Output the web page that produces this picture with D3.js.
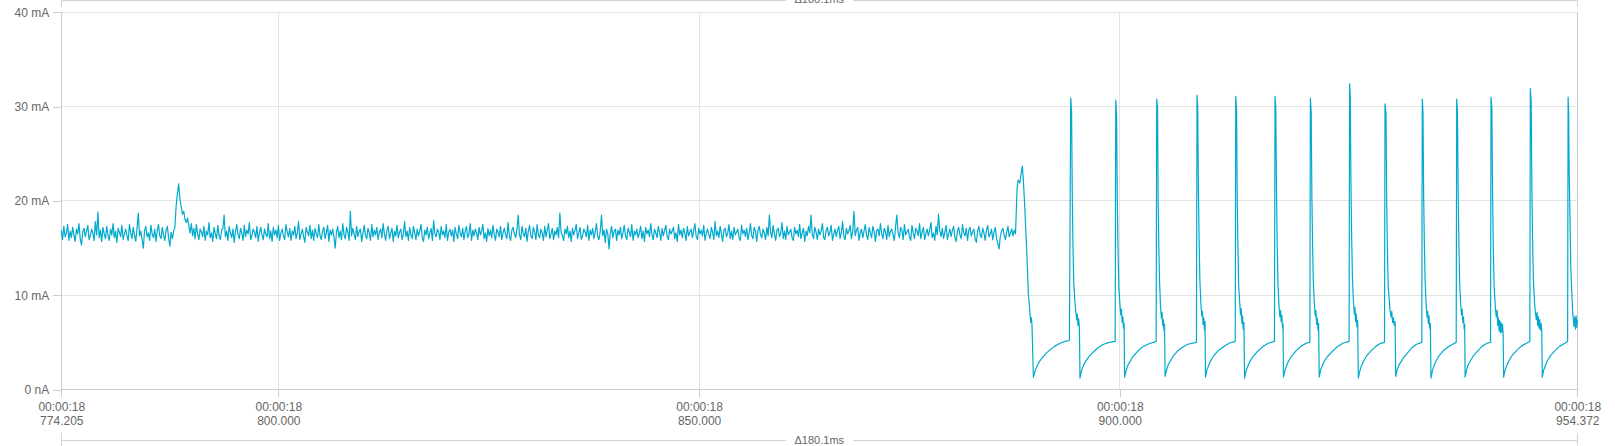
<!DOCTYPE html>
<html>
<head>
<meta charset="utf-8">
<script src="https://cdn.jsdelivr.net/npm/d3@7"></script>
<style>
  body { margin: 0; background: #fff; }
  svg { display: block; font-family: "Liberation Sans", Arial, sans-serif; }
</style>
</head>
<body>
<svg id="chart" width="1615" height="446"></svg>
<script>
"use strict";

/*
 * Current trace (mA) over an 180 ms window.
 */

const yTicks = [0, 10, 20, 30, 40];
const xTicks = [774.205, 800, 850, 900, 954.372];
const clockLabel = "00:00:18";
const deltaLabel = "\u0394180.1ms";

// idle section, one sample every 0.15 ms from 774.205 ms
const idleStart = 774.205;
const idleStep = 0.15;
const idle = [
  16.9, 15.9, 17.3, 16.2, 16.6, 17.5, 15.8, 16.8, 16.1, 17.2, 16.4, 15.7, 17.0, 16.5, 17.6, 16.0, 15.3, 16.7, 17.1, 16.2,
  16.8, 17.4, 15.9, 16.3, 17.0, 16.6, 15.8, 17.8, 16.4, 18.8, 16.1, 16.9, 15.7, 17.2, 16.5, 16.0, 17.3, 16.3, 15.8, 17.0,
  16.4, 17.6, 16.1, 16.8, 15.6, 17.1, 16.7, 16.2, 17.4, 15.9, 16.5, 17.0, 16.3, 15.8, 17.5, 16.6, 16.0, 17.2, 16.4, 15.7,
  17.1, 18.7, 16.3, 16.8, 15.9, 15.0, 16.9, 17.3, 16.2, 16.6, 15.8, 17.4, 16.5, 16.1, 17.0, 15.7, 16.8, 17.5, 16.3, 16.0,
  17.2, 16.4, 15.8, 16.9, 17.3, 16.1, 15.2, 16.7, 16.0, 16.8, 17.2, 19.5, 20.8, 21.8, 20.2, 19.4, 18.6, 18.9, 18.0, 17.7,
  18.2, 17.4, 16.6, 17.6, 16.3, 17.1, 16.0, 17.5, 16.5, 15.9, 17.0, 16.7, 16.2, 17.3, 15.8, 16.8, 16.4, 17.7, 16.1, 16.6,
  15.7, 17.2, 16.5, 16.0, 17.4, 16.3, 15.9, 16.9, 17.1, 18.5, 16.2, 16.8, 15.8, 17.3, 16.6, 16.1, 17.0, 15.6, 16.7, 17.5,
  16.4, 16.0, 17.1, 16.6, 15.8, 17.4, 16.2, 16.9, 16.5, 17.7, 15.9, 16.3, 17.0, 16.7, 16.1, 17.3, 15.7, 16.6, 17.2, 16.4,
  15.9, 17.0, 16.5, 16.2, 17.6, 16.0, 16.8, 15.7, 17.2, 16.4, 16.9, 16.1, 17.4, 15.8, 16.6, 17.0, 16.3, 15.9, 17.5, 16.7,
  16.2, 17.1, 15.8, 16.8, 16.4, 17.3, 16.0, 16.6, 17.8, 15.9, 16.5, 17.0, 16.2, 15.6, 17.2, 16.7, 16.3, 17.4, 16.0, 16.9,
  15.8, 17.1, 16.5, 16.1, 17.5, 16.3, 15.9, 16.8, 17.2, 16.0, 16.6, 17.4, 15.7, 16.9, 16.4, 17.0, 16.2, 15.0, 16.7, 17.3,
  16.1, 16.8, 15.9, 17.6, 16.4, 16.0, 17.2, 16.7, 15.8, 18.9, 16.3, 17.1, 16.5, 15.9, 17.3, 16.2, 16.8, 17.0, 15.7, 16.6,
  17.4, 16.3, 16.0, 17.1, 16.6, 15.8, 17.5, 16.2, 16.9, 16.4, 17.2, 15.9, 16.7, 17.0, 16.1, 17.6, 16.5, 15.8, 16.9, 17.3,
  16.0, 16.6, 17.1, 15.7, 16.8, 16.3, 17.4, 16.1, 16.7, 17.0, 15.9, 16.5, 17.8, 16.2, 16.8, 15.8, 17.2, 16.4, 16.0, 17.3,
  16.6, 15.9, 17.0, 16.3, 16.8, 17.5, 16.1, 15.7, 16.9, 16.4, 17.2, 16.0, 16.6, 17.1, 15.8, 17.9, 16.5, 16.2, 17.0, 16.7,
  15.9, 17.3, 16.4, 16.8, 16.1, 17.5, 15.8, 16.7, 17.0, 16.3, 16.9, 15.7, 17.2, 16.5, 16.0, 17.4, 16.6, 16.2, 17.1, 15.9,
  16.8, 17.3, 16.1, 16.5, 17.6, 15.8, 16.9, 16.3, 17.0, 16.6, 15.9, 17.2, 16.4, 16.8, 17.5, 16.0, 16.6, 15.7, 17.1, 16.3,
  16.9, 16.1, 17.4, 16.5, 15.8, 17.0, 16.7, 16.2, 17.3, 15.9, 16.6, 17.1, 16.4, 16.0, 17.7, 16.3, 15.8, 16.9, 17.2, 16.5,
  16.1, 17.0, 18.5, 16.4, 15.9, 17.3, 16.6, 16.2, 17.1, 15.7, 16.8, 17.4, 16.3, 16.0, 17.2, 16.7, 15.9, 17.5, 16.4, 16.1,
  17.0, 16.6, 15.8, 17.3, 16.2, 16.9, 17.6, 16.0, 16.5, 17.1, 15.9, 16.8, 16.4, 17.2, 16.1, 18.7, 16.7, 16.3, 15.8, 17.0,
  16.5, 17.3, 16.1, 16.8, 15.7, 17.1, 16.4, 16.9, 17.5, 16.0, 16.6, 17.2, 15.9, 16.3, 17.0, 16.7, 16.2, 17.4, 15.8, 16.9,
  16.4, 17.1, 16.0, 16.7, 17.6, 16.2, 15.9, 16.8, 18.5, 16.3, 16.9, 15.6, 17.0, 16.5, 14.9, 16.6, 17.3, 16.1, 16.8, 17.0,
  15.8, 16.9, 16.4, 17.2, 16.0, 16.6, 17.4, 16.3, 15.9, 17.1, 16.7, 16.2, 17.5, 15.8, 16.8, 16.4, 17.0, 16.1, 16.6, 17.3,
  16.0, 16.8, 15.7, 17.2, 16.5, 16.9, 16.2, 17.6, 16.4, 15.9, 17.0, 16.6, 16.1, 17.3, 16.7, 15.8, 17.1, 16.3, 16.9, 17.4,
  16.2, 15.9, 17.0, 16.5, 16.8, 17.2, 16.0, 16.6, 15.7, 17.5, 16.4, 16.9, 16.1, 17.1, 16.6, 15.8, 17.3, 16.3, 16.7, 17.0,
  16.1, 16.8, 17.6, 16.2, 15.9, 17.1, 16.5, 16.9, 16.3, 17.4, 15.8, 16.6, 17.0, 16.4, 16.0, 17.2, 16.7, 15.9, 17.8, 16.3,
  16.8, 16.1, 17.3, 16.5, 15.7, 16.9, 17.1, 16.2, 16.6, 17.5, 16.0, 16.8, 15.9, 17.2, 16.4, 16.7, 17.0, 16.1, 15.8, 17.4,
  16.5, 16.9, 16.2, 17.1, 15.9, 16.6, 17.6, 16.3, 16.0, 17.2, 16.8, 15.7, 16.9, 17.3, 16.4, 16.1, 17.0, 16.6, 15.9, 17.2,
  16.3, 18.5, 16.7, 16.1, 17.4, 16.5, 15.8, 16.9, 17.1, 16.2, 16.6, 17.7, 16.0, 16.8, 15.9, 17.3, 16.4, 16.7, 17.0, 16.1,
  15.8, 17.2, 16.5, 16.9, 16.2, 17.5, 16.0, 16.6, 17.1, 15.7, 16.8, 16.3, 17.3, 16.6, 18.5, 16.4, 16.0, 17.2, 16.7, 15.9,
  17.0, 16.4, 16.8, 17.6, 16.1, 15.9, 16.9, 17.2, 16.3, 16.7, 17.4, 15.8, 16.5, 17.0, 16.2, 16.9, 17.3, 16.0, 16.6, 17.8,
  16.2, 15.9, 17.1, 16.5, 16.8, 17.4, 16.0, 16.7, 18.9, 16.3, 16.9, 17.2, 15.8, 16.6, 17.0, 16.1, 16.8, 17.5, 16.4, 15.9,
  17.2, 16.6, 16.1, 17.3, 16.8, 15.7, 16.9, 17.0, 16.3, 17.6, 16.5, 16.0, 17.1, 16.7, 15.9, 17.4, 16.2, 16.8, 17.0, 16.4,
  15.8, 17.3, 18.5, 16.6, 16.1, 17.2, 16.9, 15.9, 17.5, 16.4, 16.7, 17.0, 16.2, 15.8, 17.4, 16.6, 16.0, 17.1, 16.8, 16.3,
  17.6, 16.0, 16.7, 17.2, 15.9, 16.5, 17.0, 16.3, 16.9, 17.7, 16.1, 16.6, 15.8, 17.3, 16.4, 18.6, 16.8, 16.2, 17.1, 16.0,
  16.7, 17.4, 15.9, 16.5, 17.0, 16.2, 16.9, 17.3, 16.1, 15.7, 16.8, 17.2, 16.4, 16.0, 17.5, 16.6, 16.3, 17.1, 15.8, 16.9,
  17.2, 16.3, 16.7, 17.0, 16.0, 15.6, 16.8, 17.3, 16.4, 16.1, 17.1, 16.6, 15.8, 16.9, 17.4, 16.2, 16.5, 17.0, 15.9, 16.7,
  17.2, 16.0, 15.5, 14.9, 16.3, 16.8, 17.1, 16.4, 15.9, 16.7, 17.3, 16.2, 16.6, 17.0, 16.3, 16.9, 16.5
];

// wake-up step before the pulse train: [ms, mA]
const wakeup = [
  [887.79, 21.2], [887.91, 22.2], [888.11, 21.9], [888.27, 22.9], [888.42, 23.7],
  [888.54, 22.2], [888.70, 19.4], [888.94, 14.8], [889.13, 10.2], [889.30, 8.4],
  [889.42, 7.1], [889.50, 7.6], [889.57, 6.7], [889.73, 1.3], [889.90, 1.9],
  [890.13, 2.4], [890.40, 2.9], [890.73, 3.3], [891.20, 3.8], [891.71, 4.2],
  [892.30, 4.6], [892.90, 4.9], [893.50, 5.1], [894.01, 5.2]
];

// pulse start times (ms) and each pulse's samples as [ms after start, mA]
const pulseTimes = [894.17, 899.52, 904.39, 909.18, 913.78, 918.45, 922.65,
                    927.31, 931.52, 935.95, 940.04, 944.12, 948.79, 953.28];
const pulseSamples = [
  [[0,30.9],[0.1,29.5],[0.18,21.0],[0.26,15.4],[0.36,11.3],[0.5,9.3],[0.62,8.1],[0.7,7.4],[0.78,8.0],[0.86,6.8],[0.94,7.5],[1.03,6.6],[1.10,1.2],[1.25,1.9],[1.45,2.4],[1.7,2.9],[2.1,3.4],[2.6,3.9],[3.2,4.4],[3.9,4.8],[4.6,5.0],[5.28,5.1]],
  [[0,30.7],[0.1,29.0],[0.18,20.5],[0.27,14.8],[0.37,10.8],[0.5,9.0],[0.6,7.9],[0.68,8.5],[0.76,7.1],[0.84,7.7],[0.92,6.5],[0.99,7.0],[1.05,1.3],[1.2,1.9],[1.4,2.5],[1.65,2.9],[2.05,3.5],[2.55,4.0],[3.15,4.5],[3.8,4.8],[4.8,5.1]],
  [[0,30.8],[0.1,29.9],[0.17,20.0],[0.25,15.1],[0.33,11.6],[0.45,8.8],[0.55,7.6],[0.63,8.2],[0.71,6.8],[0.79,7.4],[0.87,6.2],[0.93,6.9],[0.99,1.4],[1.15,2.0],[1.35,2.6],[1.6,3.0],[2.0,3.6],[2.5,4.1],[3.1,4.5],[3.7,4.8],[4.72,5.0]],
  [[0,31.2],[0.08,30.0],[0.16,21.5],[0.25,15.6],[0.34,11.5],[0.46,9.1],[0.56,7.8],[0.64,8.3],[0.72,6.9],[0.8,7.6],[0.88,6.3],[0.95,7.2],[1.0,1.3],[1.15,2.0],[1.35,2.5],[1.6,3.0],[2.0,3.6],[2.5,4.1],[3.1,4.5],[3.8,4.9],[4.54,5.1]],
  [[0,31.1],[0.1,29.7],[0.17,20.8],[0.26,15.0],[0.35,11.0],[0.47,9.2],[0.57,7.9],[0.65,8.6],[0.73,7.0],[0.81,7.8],[0.89,6.4],[0.97,7.1],[1.05,1.2],[1.2,1.9],[1.4,2.4],[1.65,2.9],[2.05,3.5],[2.55,4.0],[3.15,4.5],[3.85,4.9],[4.6,5.1]],
  [[0,31.1],[0.09,29.8],[0.17,21.2],[0.26,15.3],[0.35,11.2],[0.47,8.9],[0.57,7.7],[0.65,8.4],[0.73,7.2],[0.81,7.9],[0.89,6.5],[0.95,7.0],[1.0,1.3],[1.15,1.9],[1.35,2.5],[1.6,3.0],[2.0,3.6],[2.5,4.1],[3.1,4.6],[3.7,4.9],[4.14,5.0]],
  [[0,30.9],[0.1,29.4],[0.18,20.3],[0.27,14.9],[0.36,11.1],[0.48,9.0],[0.58,7.8],[0.66,8.4],[0.74,6.9],[0.82,7.6],[0.9,6.3],[0.98,7.0],[1.05,1.3],[1.2,2.0],[1.4,2.5],[1.65,3.0],[2.05,3.5],[2.55,4.0],[3.15,4.5],[3.85,4.9],[4.6,5.1]],
  [[0,32.4],[0.08,31.0],[0.16,22.0],[0.25,16.0],[0.34,11.8],[0.46,9.3],[0.56,8.0],[0.64,8.7],[0.72,7.2],[0.8,8.0],[0.88,6.6],[0.96,7.3],[1.04,1.2],[1.2,1.9],[1.4,2.5],[1.65,3.0],[2.05,3.6],[2.55,4.1],[3.15,4.6],[3.7,4.9],[4.15,5.0]],
  [[0,30.3],[0.12,29.3],[0.2,19.8],[0.28,15.1],[0.38,10.9],[0.5,9.5],[0.62,8.2],[0.72,7.7],[0.8,8.3],[0.9,7.1],[1.0,7.6],[1.1,6.8],[1.2,7.2],[1.27,1.4],[1.42,2.0],[1.6,2.5],[1.8,2.8],[2.15,3.3],[2.6,3.8],[3.15,4.4],[3.75,4.8],[4.37,5.0]],
  [[0,30.8],[0.08,29.5],[0.16,20.7],[0.25,15.2],[0.34,11.4],[0.46,9.0],[0.56,7.7],[0.64,8.3],[0.72,7.0],[0.8,7.8],[0.88,6.5],[0.96,7.0],[1.03,1.2],[1.18,1.9],[1.38,2.5],[1.62,3.0],[2.0,3.6],[2.5,4.1],[3.05,4.5],[3.6,4.8],[4.03,5.0]],
  [[0,30.8],[0.09,29.6],[0.17,21.0],[0.26,15.5],[0.35,11.3],[0.47,9.1],[0.57,7.9],[0.65,8.5],[0.73,7.1],[0.81,7.7],[0.89,6.4],[0.95,6.9],[1.0,1.3],[1.15,2.0],[1.35,2.6],[1.6,3.0],[2.0,3.6],[2.5,4.1],[3.05,4.6],[3.6,4.9],[4.02,5.0]],
  [[0,31.0],[0.1,29.8],[0.18,21.0],[0.27,15.0],[0.37,10.9],[0.5,8.9],[0.62,7.7],[0.72,8.4],[0.8,6.8],[0.88,7.6],[0.96,6.2],[1.04,7.3],[1.12,6.0],[1.2,7.1],[1.28,6.1],[1.36,6.9],[1.44,5.9],[1.5,1.3],[1.65,2.0],[1.85,2.5],[2.1,3.0],[2.5,3.6],[3.0,4.1],[3.6,4.6],[4.2,4.9],[4.61,5.1]],
  [[0,31.9],[0.1,30.5],[0.18,21.6],[0.27,15.8],[0.37,11.5],[0.5,9.2],[0.62,8.0],[0.72,7.4],[0.8,8.2],[0.88,6.8],[0.96,7.7],[1.04,6.5],[1.12,7.4],[1.2,6.3],[1.28,7.0],[1.36,6.2],[1.42,1.3],[1.57,2.0],[1.77,2.5],[2.0,3.0],[2.4,3.6],[2.9,4.1],[3.5,4.6],[4.1,4.9],[4.43,5.1]],
  [[0,31.0],[0.06,29.5],[0.12,23.6],[0.24,17.3],[0.32,13.0],[0.44,10.2],[0.55,8.1],[0.7,6.7],[0.8,7.7],[0.88,6.4],[0.96,7.8],[1.02,6.6],[1.092,7.4]]
];

const width = 1615;
const height = 446;
const plotLeft = 61.3;
const plotRight = 1577.3;
const plotTop = 12.3;
const plotBottom = 389.5;

const textColor = "#666";
const gridColor = "#e3e3e3";
const axisColor = "#cdcdcd";
const barColor = "#cbd6de";
const traceColor = "#00a9ce";

const svg = d3.select("#chart");

const x = d3.scaleLinear()
    .domain([xTicks[0], xTicks[xTicks.length - 1]])
    .range([plotLeft, plotRight]);
const y = d3.scaleLinear()
    .domain([yTicks[0], yTicks[yTicks.length - 1]])
    .range([plotBottom, plotTop]);

// gather every sample into one trace
let trace = idle.map((v, i) => [idleStart + i * idleStep, v]);
trace = trace.concat(wakeup);
pulseTimes.forEach((t0, k) => {
  for (let [dt, v] of pulseSamples[k]) {
    trace.push([t0 + dt, v]);
  }
});

// grid
let grid = svg.append("g").attr("shape-rendering", "crispEdges");
grid.selectAll("line.h")
  .data(yTicks.filter(v => v > 0))
  .enter().append("line")
    .attr("x1", plotLeft).attr("x2", plotRight)
    .attr("y1", d => y(d)).attr("y2", d => y(d))
    .attr("stroke", gridColor);
grid.selectAll("line.v")
  .data(xTicks.slice(1, -1))
  .enter().append("line")
    .attr("x1", d => x(d)).attr("x2", d => x(d))
    .attr("y1", plotTop).attr("y2", plotBottom)
    .attr("stroke", gridColor);

// left axis
let yAxis = svg.append("g")
    .attr("transform", `translate(${plotLeft},0)`)
    .call(d3.axisLeft(y)
          .tickValues(yTicks)
          .tickSize(8)
          .tickPadding(4)
          .tickFormat(v => v === 0 ? "0 nA" : `${v} mA`));
yAxis.select(".domain").remove();
yAxis.selectAll("line").attr("stroke", axisColor).attr("shape-rendering", "crispEdges");
yAxis.selectAll("text")
    .attr("fill", textColor)
    .attr("font-size", 12)
    .attr("font-family", "'Liberation Sans', Arial, sans-serif");

// bottom axis with two-line labels
let xAxis = svg.append("g")
    .attr("transform", `translate(0,${plotBottom})`)
    .call(d3.axisBottom(x)
          .tickValues(xTicks)
          .tickSize(7)
          .tickFormat(""));
xAxis.select(".domain").remove();
xAxis.selectAll("line").attr("stroke", axisColor).attr("shape-rendering", "crispEdges");
xAxis.selectAll(".tick text").each(function(d) {
  let text = d3.select(this)
      .attr("y", null).attr("dy", null)
      .attr("fill", textColor)
      .attr("font-size", 12)
      .attr("font-family", "'Liberation Sans', Arial, sans-serif");
  text.append("tspan").attr("x", 0).attr("y", 21.5).text(clockLabel);
  text.append("tspan").attr("x", 0).attr("y", 35.5).text(d3.format(".3f")(d));
});

// frame lines
let frame = svg.append("g").attr("shape-rendering", "crispEdges").attr("stroke", axisColor);
frame.append("line")
    .attr("x1", plotLeft).attr("x2", plotRight)
    .attr("y1", plotBottom).attr("y2", plotBottom);
frame.append("line")
    .attr("x1", plotLeft).attr("x2", plotLeft)
    .attr("y1", plotTop).attr("y2", plotBottom);
frame.append("line")
    .attr("x1", plotRight).attr("x2", plotRight)
    .attr("y1", plotTop).attr("y2", plotBottom);

// delta bars above and below the plot
function deltaBar(lineY, textY, tickTop, tickBottom) {
  let g = svg.append("g");
  let label = g.append("text")
      .attr("x", (plotLeft + plotRight) / 2)
      .attr("y", textY)
      .attr("text-anchor", "middle")
      .attr("fill", textColor)
      .attr("font-size", 11)
      .text(deltaLabel);
  let half = label.node().getComputedTextLength() / 2 + 9;
  let mid = (plotLeft + plotRight) / 2;
  let lines = g.append("g").attr("stroke", barColor).attr("shape-rendering", "crispEdges");
  lines.append("line").attr("x1", plotLeft).attr("x2", mid - half)
      .attr("y1", lineY).attr("y2", lineY);
  lines.append("line").attr("x1", mid + half).attr("x2", plotRight)
      .attr("y1", lineY).attr("y2", lineY);
  for (let px of [plotLeft, plotRight]) {
    lines.append("line").attr("x1", px).attr("x2", px)
        .attr("y1", tickTop).attr("y2", tickBottom);
  }
}
deltaBar(0.5, 3, 0, 7);
deltaBar(440.5, 444, 433, height);

// trace
let line = d3.line()
    .x(d => x(d[0]))
    .y(d => y(d[1]));

svg.append("path")
    .datum(trace)
    .attr("fill", "none")
    .attr("stroke", traceColor)
    .attr("stroke-width", 1.2)
    .attr("stroke-linejoin", "round")
    .attr("d", line);
</script>
</body>
</html>
